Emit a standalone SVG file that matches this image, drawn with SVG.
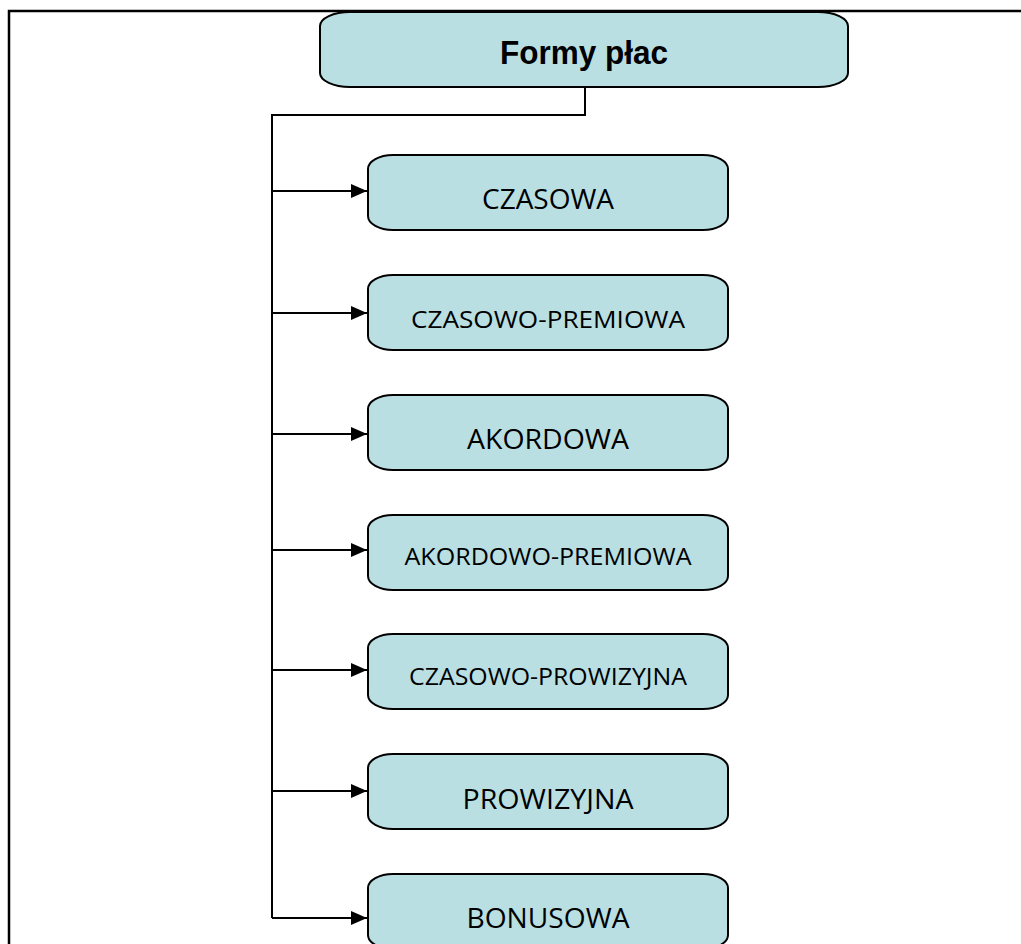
<svg xmlns="http://www.w3.org/2000/svg" width="1021" height="944" viewBox="0 0 1021 944">
<style>
.box{fill:#b9dfe3;stroke:#000;stroke-width:2}
.lbl{font-family:"Open Sans","Liberation Sans",sans-serif;fill:#000;text-anchor:middle}
.big{font-size:28px}
.small{font-size:24px}
.title{font-family:"Liberation Sans",Arial,sans-serif;font-weight:bold;font-size:33px;fill:#000;text-anchor:middle}
.wire{fill:none;stroke:#000;stroke-width:2}
</style>
<defs>
<marker id="arr" markerWidth="16" markerHeight="14" refX="16" refY="7" orient="auto" markerUnits="userSpaceOnUse">
<path d="M0,0 L16,7 L0,14 Z" fill="#000"/>
</marker>
</defs>
<rect width="1021" height="944" fill="#fff"/>
<path d="M9,944 V11 H1021" fill="none" stroke="#000" stroke-width="2.5"/>
<g id="connectors">
<path class="wire" d="M585,87 V115 H272 V918"/>
<path class="wire" d="M272,191 H367" marker-end="url(#arr)"/>
<path class="wire" d="M272,313 H367" marker-end="url(#arr)"/>
<path class="wire" d="M272,434 H367" marker-end="url(#arr)"/>
<path class="wire" d="M272,550 H367" marker-end="url(#arr)"/>
<path class="wire" d="M272,670 H367" marker-end="url(#arr)"/>
<path class="wire" d="M272,791 H367" marker-end="url(#arr)"/>
<path class="wire" d="M272,918 H367" marker-end="url(#arr)"/>
</g>
<g id="root">
<path class="box" d="M350,12 H818 A30,14 0 0 1 848,26 V73 A30,14 0 0 1 818,87 H350 A30,14 0 0 1 320,73 V26 A30,14 0 0 1 350,12 Z"/>
<text class="title" x="584" y="64" textLength="168" lengthAdjust="spacingAndGlyphs">Formy płac</text>
</g>
<g id="n1">
<path class="box" d="M393,155 H703 A25,14 0 0 1 728,169 V216 A25,14 0 0 1 703,230 H393 A25,14 0 0 1 368,216 V169 A25,14 0 0 1 393,155 Z"/>
<text class="lbl big" x="548" y="209" textLength="132" lengthAdjust="spacingAndGlyphs">CZASOWA</text>
</g>
<g id="n2">
<path class="box" d="M393,275 H703 A25,14 0 0 1 728,289 V336 A25,14 0 0 1 703,350 H393 A25,14 0 0 1 368,336 V289 A25,14 0 0 1 393,275 Z"/>
<text class="lbl small" x="548" y="328" textLength="274" lengthAdjust="spacingAndGlyphs">CZASOWO-PREMIOWA</text>
</g>
<g id="n3">
<path class="box" d="M393,395 H703 A25,14 0 0 1 728,409 V456 A25,14 0 0 1 703,470 H393 A25,14 0 0 1 368,456 V409 A25,14 0 0 1 393,395 Z"/>
<text class="lbl big" x="548" y="449" textLength="162" lengthAdjust="spacingAndGlyphs">AKORDOWA</text>
</g>
<g id="n4">
<path class="box" d="M393,515 H703 A25,14 0 0 1 728,529 V576 A25,14 0 0 1 703,590 H393 A25,14 0 0 1 368,576 V529 A25,14 0 0 1 393,515 Z"/>
<text class="lbl small" x="548" y="565" textLength="287" lengthAdjust="spacingAndGlyphs">AKORDOWO-PREMIOWA</text>
</g>
<g id="n5">
<path class="box" d="M393,634 H703 A25,14 0 0 1 728,648 V695 A25,14 0 0 1 703,709 H393 A25,14 0 0 1 368,695 V648 A25,14 0 0 1 393,634 Z"/>
<text class="lbl small" x="548" y="685" textLength="278" lengthAdjust="spacingAndGlyphs">CZASOWO-PROWIZYJNA</text>
</g>
<g id="n6">
<path class="box" d="M393,754 H703 A25,14 0 0 1 728,768 V815 A25,14 0 0 1 703,829 H393 A25,14 0 0 1 368,815 V768 A25,14 0 0 1 393,754 Z"/>
<text class="lbl big" x="548" y="809" textLength="171" lengthAdjust="spacingAndGlyphs">PROWIZYJNA</text>
</g>
<g id="n7">
<path class="box" d="M393,874 H703 A25,14 0 0 1 728,888 V935 A25,14 0 0 1 703,949 H393 A25,14 0 0 1 368,935 V888 A25,14 0 0 1 393,874 Z"/>
<text class="lbl big" x="548" y="928" textLength="163" lengthAdjust="spacingAndGlyphs">BONUSOWA</text>
</g>
</svg>
